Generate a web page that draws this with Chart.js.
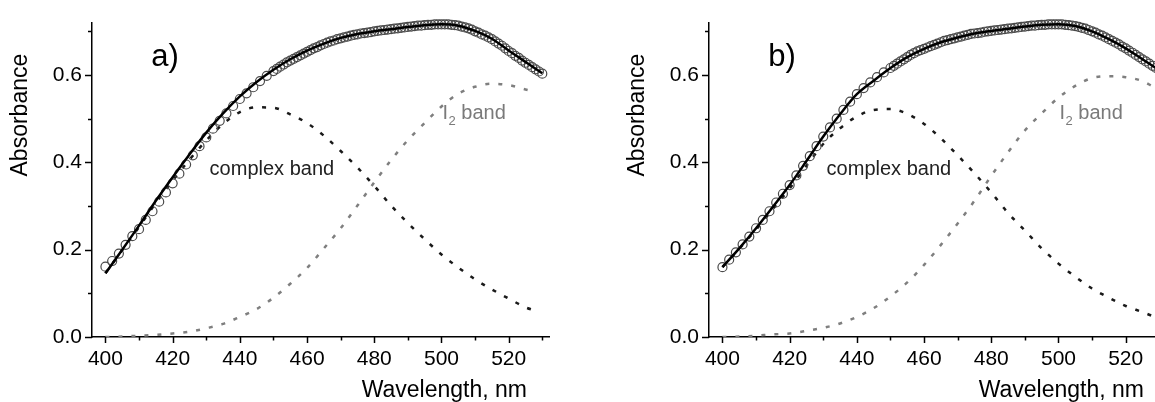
<!DOCTYPE html>
<html>
<head>
<meta charset="utf-8">
<title>Absorbance spectra</title>
<script src="https://cdn.jsdelivr.net/npm/chart.js@4/dist/chart.umd.min.js"></script>
<style>
    html, body { margin: 0; padding: 0; background: #fff; }
    #wrap { position: relative; width: 1155px; height: 402px; overflow: hidden; }
    canvas { position: absolute; top: 0; }
    #chart-a { left: 0; }
    #chart-b { left: 617px; }
</style>
</head>
<body>
<div id="wrap">
    <canvas id="chart-a" width="580" height="402"></canvas>
    <canvas id="chart-b" width="580" height="402"></canvas>
</div>
<script>
// Measured points (circles), nm
var circleWl = [
    400, 402, 404, 406, 408, 410, 412, 414, 416, 418, 420, 422, 424, 426, 428, 430, 432, 434, 436, 438, 440, 442, 444, 446, 448, 450,
    451, 452, 453, 454, 455, 456, 457, 458, 459, 460, 461, 462, 463, 464, 465, 466, 467, 468, 469, 470,
    471, 472, 473, 474, 475, 476, 477, 478, 479, 480, 481, 482, 483, 484, 485, 486, 487, 488, 489, 490,
    491, 492, 493, 494, 495, 496, 497, 498, 499, 500, 501, 502, 503, 504, 505, 506, 507, 508, 509, 510,
    511, 512, 513, 514, 515, 516, 517, 518, 519, 520, 521, 522, 523, 524, 525, 526, 527, 528, 529, 530
];
var circleA = [
    0.161, 0.174, 0.191, 0.211, 0.231, 0.247, 0.268, 0.288, 0.310, 0.331, 0.352, 0.374, 0.395, 0.416, 0.437, 0.457, 0.477, 0.495, 0.512, 0.529, 0.545, 0.558, 0.572, 0.586, 0.598, 0.609,
    0.614, 0.619, 0.624, 0.629, 0.633, 0.637, 0.641, 0.645, 0.649, 0.653, 0.657, 0.661, 0.664, 0.668, 0.671, 0.674, 0.677, 0.679, 0.682, 0.684,
    0.686, 0.688, 0.690, 0.692, 0.693, 0.695, 0.696, 0.697, 0.698, 0.700, 0.701, 0.702, 0.703, 0.704, 0.705, 0.706, 0.707, 0.708, 0.709, 0.710,
    0.711, 0.712, 0.713, 0.713, 0.714, 0.715, 0.715, 0.716, 0.716, 0.716, 0.716, 0.716, 0.715, 0.714, 0.713, 0.711, 0.709, 0.707, 0.704, 0.700,
    0.697, 0.693, 0.690, 0.686, 0.682, 0.677, 0.672, 0.667, 0.661, 0.655, 0.650, 0.644, 0.639, 0.633, 0.628, 0.623, 0.618, 0.613, 0.608, 0.603
];
var circleB = [
    0.160, 0.177, 0.194, 0.212, 0.230, 0.249, 0.268, 0.288, 0.308, 0.328, 0.348, 0.370, 0.392, 0.414, 0.437, 0.459, 0.480, 0.500, 0.520, 0.539, 0.556, 0.570, 0.583, 0.595, 0.606, 0.616,
    0.621, 0.626, 0.631, 0.636, 0.641, 0.646, 0.650, 0.654, 0.657, 0.660, 0.663, 0.666, 0.669, 0.672, 0.675, 0.678, 0.680, 0.682, 0.684, 0.686,
    0.688, 0.690, 0.692, 0.694, 0.695, 0.696, 0.697, 0.699, 0.700, 0.701, 0.702, 0.703, 0.704, 0.705, 0.706, 0.707, 0.708, 0.709, 0.710, 0.711,
    0.712, 0.713, 0.713, 0.714, 0.715, 0.715, 0.716, 0.716, 0.716, 0.716, 0.716, 0.715, 0.714, 0.713, 0.712, 0.710, 0.708, 0.706, 0.703, 0.700,
    0.697, 0.693, 0.690, 0.686, 0.682, 0.678, 0.674, 0.670, 0.665, 0.661, 0.656, 0.651, 0.646, 0.641, 0.636, 0.631, 0.626, 0.621, 0.616, 0.611
];

// Fitted sum (solid line)
var fitWl = [400, 405, 410, 415, 420, 425, 430, 435, 440, 445, 450, 455, 460, 465, 470, 475, 480, 485, 490, 495, 500, 505, 510, 515, 520, 525, 530];
var fitA = [0.146, 0.200, 0.255, 0.312, 0.366, 0.418, 0.468, 0.512, 0.551, 0.584, 0.612, 0.636, 0.656, 0.672, 0.685, 0.694, 0.700, 0.705, 0.710, 0.714, 0.716, 0.713, 0.701, 0.683, 0.656, 0.630, 0.604];
var fitB = [0.160, 0.203, 0.249, 0.298, 0.348, 0.403, 0.459, 0.510, 0.556, 0.587, 0.616, 0.641, 0.660, 0.675, 0.686, 0.695, 0.701, 0.706, 0.711, 0.715, 0.716, 0.712, 0.700, 0.682, 0.661, 0.636, 0.611];

// Band components (dotted lines)
var bandWl = [400, 405, 410, 415, 420, 425, 430, 435, 440, 445, 450, 455, 460, 465, 470, 475, 480, 485, 490, 495, 500, 505, 510, 515, 520, 525, 528];
var complexA = [0.146, 0.199, 0.252, 0.307, 0.358, 0.406, 0.450, 0.488, 0.515, 0.526, 0.525, 0.510, 0.490, 0.461, 0.426, 0.388, 0.346, 0.301, 0.261, 0.224, 0.189, 0.159, 0.132, 0.109, 0.088, 0.068, 0.060];
var iodineA = [0.000, 0.001, 0.003, 0.005, 0.008, 0.012, 0.020, 0.030, 0.046, 0.064, 0.090, 0.122, 0.158, 0.203, 0.249, 0.301, 0.354, 0.405, 0.451, 0.490, 0.528, 0.557, 0.573, 0.580, 0.577, 0.567, 0.562];
var complexB = [0.160, 0.202, 0.246, 0.293, 0.340, 0.392, 0.442, 0.478, 0.505, 0.520, 0.522, 0.511, 0.488, 0.455, 0.416, 0.375, 0.331, 0.284, 0.244, 0.203, 0.168, 0.138, 0.111, 0.090, 0.071, 0.057, 0.048];
var iodineB = [0.000, 0.001, 0.003, 0.006, 0.008, 0.014, 0.021, 0.031, 0.046, 0.066, 0.093, 0.125, 0.165, 0.211, 0.260, 0.312, 0.369, 0.423, 0.473, 0.512, 0.548, 0.575, 0.593, 0.597, 0.595, 0.586, 0.574];

var FONT = '"Liberation Sans", Arial, Helvetica, sans-serif';

Chart.defaults.font.family = FONT;
Chart.defaults.color = '#000';

function toPoints(xs, ys) {
    return xs.map(function(x, i) { return { x: x, y: ys[i] }; });
}

// Outward tick marks, long for labelled ticks, short for the others
var tickMarks = {
    id: 'tickMarks',
    afterDraw: function(chart) {
        var ctx = chart.ctx;
        var xs = chart.scales.x;
        var ys = chart.scales.y;

        ctx.save();
        ctx.strokeStyle = '#000';
        ctx.lineWidth = 1.5;

        xs.ticks.forEach(function(t) {
            var px = Math.round(xs.getPixelForValue(t.value)) + 0.5;
            var len = t.value % 20 === 0 ? 6 : 3.5;
            ctx.beginPath();
            ctx.moveTo(px, xs.top);
            ctx.lineTo(px, xs.top + len);
            ctx.stroke();
        });

        ys.ticks.forEach(function(t) {
            var py = Math.round(ys.getPixelForValue(t.value)) + 0.5;
            var len = Math.round(t.value * 10) % 2 === 0 ? 7 : 4;
            ctx.beginPath();
            ctx.moveTo(ys.right, py);
            ctx.lineTo(ys.right - len, py);
            ctx.stroke();
        });

        ctx.restore();
    }
};

// Panel letter, band labels and axis titles
var panelText = {
    id: 'panelText',
    afterDraw: function(chart, args, opts) {
        var ctx = chart.ctx;
        var area = chart.chartArea;
        var xs = chart.scales.x;
        var ys = chart.scales.y;

        ctx.save();
        ctx.textAlign = 'left';
        ctx.textBaseline = 'alphabetic';

        // a) / b)
        ctx.fillStyle = '#000';
        ctx.font = '31px ' + FONT;
        ctx.fillText(opts.letter, xs.getPixelForValue(opts.letterAt[0]), ys.getPixelForValue(opts.letterAt[1]));

        // complex band
        ctx.fillStyle = '#222';
        ctx.font = '20px ' + FONT;
        ctx.fillText('complex band', xs.getPixelForValue(opts.complexAt[0]), ys.getPixelForValue(opts.complexAt[1]));

        // I2 band, with subscript
        var px = xs.getPixelForValue(opts.iodineAt[0]);
        var py = ys.getPixelForValue(opts.iodineAt[1]);
        ctx.fillStyle = '#7a7a7a';
        ctx.fillText('I', px, py);
        var wI = ctx.measureText('I').width;
        ctx.font = '13px ' + FONT;
        ctx.fillText('2', px + wI + 0.5, py + 6);
        var w2 = ctx.measureText('2').width;
        ctx.font = '20px ' + FONT;
        ctx.fillText(' band', px + wI + w2 + 0.5, py);

        // axis titles
        ctx.fillStyle = '#000';
        ctx.font = '23px ' + FONT;
        ctx.textAlign = 'right';
        ctx.fillText('Wavelength, nm', area.right - 22, area.bottom + 60);

        ctx.translate(area.left - 71.5, area.top + 92.5);
        ctx.rotate(-Math.PI / 2);
        ctx.textAlign = 'center';
        ctx.textBaseline = 'middle';
        ctx.fillText('Absorbance', 0, 0);

        ctx.restore();
    }
};

function buildChart(canvasId, letter, circles, fit, complex, iodine) {
    var ctx = document.getElementById(canvasId);

    return new Chart(ctx, {
        type: 'scatter',
        data: {
            datasets: [
                {
                    label: 'fit',
                    data: toPoints(fitWl, fit),
                    showLine: true,
                    borderColor: '#000',
                    borderWidth: 2.5,
                    pointRadius: 0,
                    cubicInterpolationMode: 'monotone',
                    clip: false
                },
                {
                    label: 'data',
                    data: toPoints(circleWl, circles),
                    showLine: false,
                    pointStyle: 'circle',
                    pointRadius: 4.5,
                    borderWidth: 1.2,
                    borderColor: '#4a4a4a',
                    backgroundColor: 'rgba(0,0,0,0)',
                    clip: false
                },
                {
                    label: 'complex band',
                    data: toPoints(bandWl, complex),
                    showLine: true,
                    borderColor: '#1a1a1a',
                    borderWidth: 2.5,
                    borderDash: [4, 9],
                    pointRadius: 0,
                    cubicInterpolationMode: 'monotone'
                },
                {
                    label: 'I2 band',
                    data: toPoints(bandWl, iodine),
                    showLine: true,
                    borderColor: '#7f7f7f',
                    borderWidth: 2.5,
                    borderDash: [4, 9],
                    pointRadius: 0,
                    cubicInterpolationMode: 'monotone'
                }
            ]
        },
        options: {
            responsive: false,
            animation: false,
            devicePixelRatio: 1,
            layout: { padding: { top: 16, right: 31, left: 0, bottom: 0 } },
            plugins: {
                legend: { display: false },
                tooltip: { enabled: false },
                panelText: {
                    letter: letter,
                    letterAt: [413.6, 0.62],
                    complexAt: [431, 0.37],
                    iodineAt: [500.3, 0.50]
                }
            },
            scales: {
                x: {
                    type: 'linear',
                    min: 396,
                    max: 532,
                    afterFit: function(scale) { scale.height = 65; },
                    grid: { drawOnChartArea: false, drawTicks: false },
                    border: { display: true, color: '#000', width: 1.5 },
                    ticks: {
                        stepSize: 10,
                        includeBounds: false,
                        autoSkip: false,
                        maxRotation: 0,
                        padding: 10,
                        font: { size: 21 },
                        callback: function(v) { return v % 20 === 0 ? String(v) : ''; }
                    }
                },
                y: {
                    type: 'linear',
                    min: 0,
                    max: 0.72,
                    afterFit: function(scale) { scale.width = 92; },
                    grid: { drawOnChartArea: false, drawTicks: false },
                    border: { display: true, color: '#000', width: 1.5 },
                    ticks: {
                        stepSize: 0.1,
                        includeBounds: false,
                        autoSkip: false,
                        padding: 10,
                        font: { size: 21 },
                        callback: function(v) {
                            return Math.round(v * 10) % 2 === 0 ? v.toFixed(1) : '';
                        }
                    }
                }
            }
        },
        plugins: [tickMarks, panelText]
    });
}

buildChart('chart-a', 'a)', circleA, fitA, complexA, iodineA);
buildChart('chart-b', 'b)', circleB, fitB, complexB, iodineB);
</script>
</body>
</html>
